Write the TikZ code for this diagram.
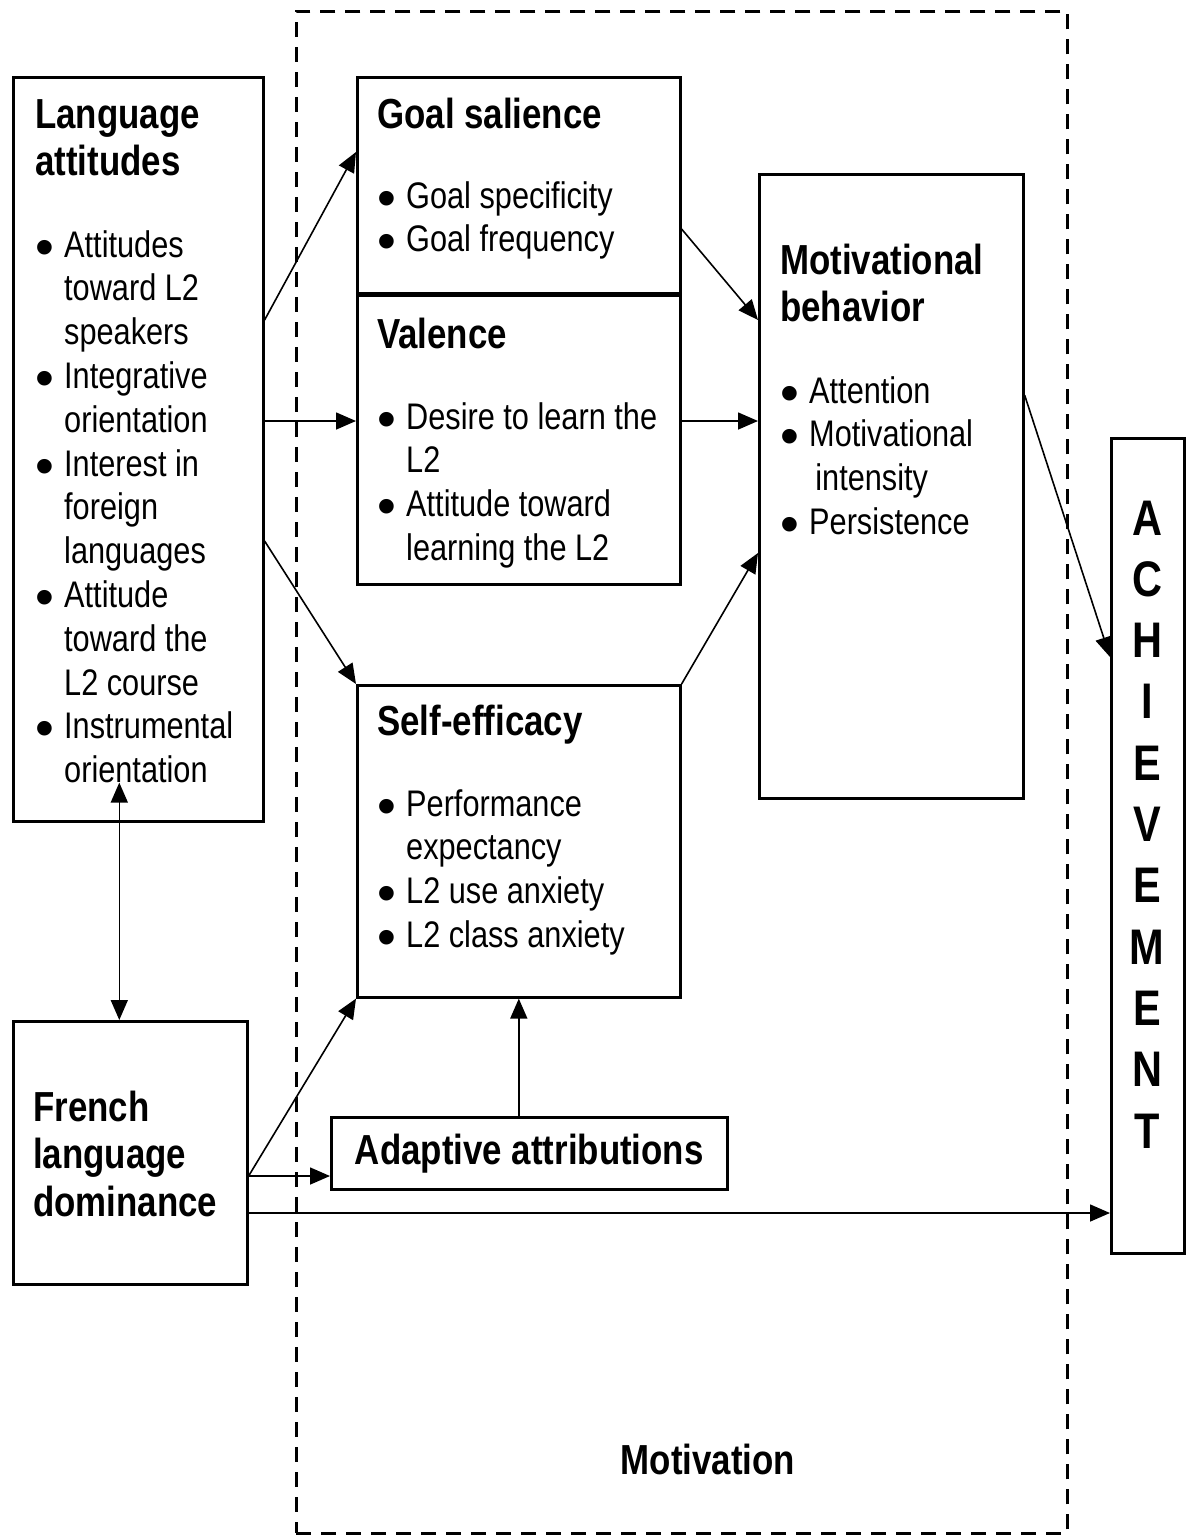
\documentclass[tikz,border=0pt]{standalone}
\usepackage{fontspec}
\setmainfont{Liberation Sans}[FakeStretch=0.83]
\usetikzlibrary{arrows.meta}

\newcommand{\bul}{\makebox[29pt][l]{\smash{\raisebox{-8pt}{\scalebox{1.75}[1.45]{\textbullet}}}}}
\newcommand{\ind}{\hspace*{29pt}}
\newcommand{\txt}[1]{\parbox[t]{330pt}{\raggedright #1}}

\tikzset{
  >={Triangle[length=20pt,width=17pt]},
  box/.style={draw, line width=2.6pt, anchor=north west, inner sep=0pt},
  head/.style={anchor=base west, inner sep=0pt, font=\fontsize{42}{47.5}\selectfont\bfseries},
  items/.style={anchor=base west, inner sep=0pt, font=\fontsize{37}{43.8}\selectfont},
  link/.style={line width=1.6pt, ->},
}

\begin{document}
\begin{tikzpicture}[x=1pt,y=-1pt]
  \useasboundingbox (0,0) rectangle (1186,1537);

  % motivation frame
  \node[box, dash pattern=on 15pt off 10pt, minimum width=771pt, minimum height=1522pt] (motBox) at (295,10) {};
  \node[anchor=base, inner sep=0pt, font=\fontsize{42}{47.5}\selectfont\bfseries] (motLabel) at (708,1474) {Motivation};

  % language attitudes
  \node[box, minimum width=250pt, minimum height=744pt] (attBox) at (12,76) {};
  \node[head] (attHead) at (35,128) {\txt{Language\\attitudes}};
  \node[items] (attList) at (35,257) {\txt{\bul Attitudes\\\ind toward L2\\\ind speakers\\\bul Integrative\\\ind orientation\\\bul Interest in\\\ind foreign\\\ind languages\\\bul Attitude\\\ind toward the\\\ind L2 course\\\bul Instrumental\\\ind orientation}};

  % goal salience
  \node[box, minimum width=323pt, minimum height=216pt] (gsBox) at (356,76) {};
  \node[head] (gsHead) at (377,128) {Goal salience};
  \node[items] (gsList) at (377,208) {\txt{\bul Goal specificity\\\bul Goal frequency}};

  % valence
  \node[box, minimum width=323pt, minimum height=289pt] (valBox) at (356,294) {};
  \node[head] (valHead) at (377,348) {Valence};
  \node[items] (valList) at (377,429) {\txt{\bul Desire to learn the\\\ind L2\\\bul Attitude toward\\\ind learning the L2}};

  % self-efficacy
  \node[box, minimum width=323pt, minimum height=312pt] (seBox) at (356,684) {};
  \node[head] (seHead) at (377,735) {Self-efficacy};
  \node[items] (seList) at (377,816) {\txt{\bul Performance\\\ind expectancy\\\bul L2 use anxiety\\\bul L2 class anxiety}};

  % motivational behavior
  \node[box, minimum width=264pt, minimum height=624pt] (mbBox) at (758,173) {};
  \node[head] (mbHead) at (780,274) {\txt{Motivational\\behavior}};
  \node[items] (mbList) at (780,403) {\txt{\bul Attention\\\bul Motivational\\\ind\,intensity\\\bul Persistence}};

  % adaptive attributions
  \node[box, minimum width=396pt, minimum height=72pt] (aaBox) at (330,1116) {};
  \node[inner sep=0pt, font=\fontsize{42}{47.5}\selectfont\bfseries] (aaText) at (aaBox.center) {Adaptive attributions};

  % french language dominance
  \node[box, minimum width=234pt, minimum height=263pt] (fldBox) at (12,1020) {};
  \node[head] (fldHead) at (33,1121) {\txt{French\\language\\dominance}};

  % achievement
  \node[box, minimum width=73pt, minimum height=815pt] (achBox) at (1110,437) {};
  \node[anchor=base, inner sep=0pt, font=\fontsize{50}{61.3}\selectfont\bfseries] (achText) at (1147,535)
    {\parbox[t]{60pt}{\centering A\\C\\H\\I\\E\\V\\E\\M\\E\\N\\T}};

  % connectors
  \coordinate (attA) at ([yshift=-244pt]attBox.north east);
  \coordinate (attB) at ([yshift=-345pt]attBox.north east);
  \coordinate (attC) at ([yshift=-465pt]attBox.north east);
  \draw[link] (attA) -- ([yshift=-76pt]gsBox.north west);
  \draw[link] (attB) -- (attB -| valBox.west);
  \draw[link] (attC) -- (seBox.north west);

  \coordinate (gsOut) at ([yshift=-153pt]gsBox.north east);
  \coordinate (valOut) at ([yshift=-127pt]valBox.north east);
  \draw[link] (gsOut) -- ([yshift=-147pt]mbBox.north west);
  \draw[link] (valOut) -- (valOut -| mbBox.west);
  \draw[link] (seBox.north east) -- ([yshift=-380pt]mbBox.north west);
  \draw[link] ([yshift=-222pt]mbBox.north east) -- ([yshift=-220pt]achBox.north west);

  \draw[line width=1.6pt, <->] ([shift={(-19pt,40pt)}]attBox.south) -- ([xshift=-11pt]fldBox.north);

  \coordinate (fldA) at ([yshift=-156pt]fldBox.north east);
  \coordinate (fldB) at ([yshift=-193pt]fldBox.north east);
  \draw[link] (fldA) -- (seBox.south west);
  \draw[link] (fldA) -- (fldA -| aaBox.west);
  \draw[link] (fldB) -- (fldB -| achBox.west);
  \draw[link] (aaBox.north -| seBox.south) -- (seBox.south);
\end{tikzpicture}
\end{document}
